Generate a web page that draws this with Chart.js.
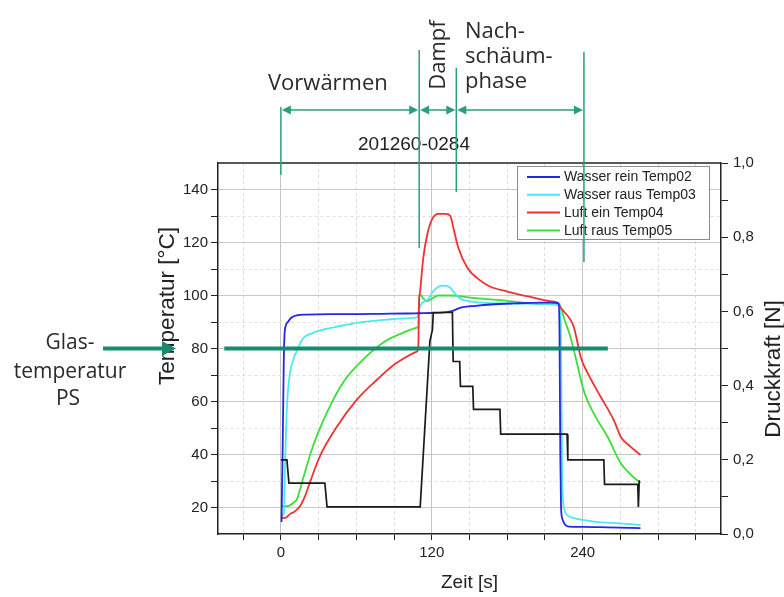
<!DOCTYPE html>
<html>
<head>
<meta charset="utf-8">
<script src="https://cdn.jsdelivr.net/npm/chart.js@4.4.1/dist/chart.umd.min.js"></script>
<style>
html,body{margin:0;padding:0;background:#fff;}
#c{display:block;}
</style>
</head>
<body>
<canvas id="c" width="784" height="597"></canvas>
<script>
// ---------- axis ticks ----------
const X_TICKS = [-30, 0, 30, 60, 90, 120, 150, 180, 210, 240, 270, 300, 330];
const X_LABELS = [0, 120, 240];
const Y_TICKS = [20, 30, 40, 50, 60, 70, 80, 90, 100, 110, 120, 130, 140];
const Y_LABELS = [20, 40, 60, 80, 100, 120, 140];
const Y1_TICKS = [0, 0.1, 0.2, 0.3, 0.4, 0.5, 0.6, 0.7, 0.8, 0.9, 1.0];
const Y1_LABELS = ['0,0', '', '0,2', '', '0,4', '', '0,6', '', '0,8', '', '1,0'];

// ---------- series ----------
const SERIES_NAMES = ['Wasser rein Temp02', 'Wasser raus Temp03', 'Luft ein Temp04', 'Luft raus Temp05'];
const FORCE_NAME = 'Druckkraft';

const T02_TIME = [0.5, 1.5, 2.3, 3.2, 5.6, 8, 12.7, 20, 40, 60, 80, 100, 110, 120, 127, 135, 143, 155, 167, 185, 207, 215, 221, 221.6, 222.2, 222.8, 224, 226, 229, 240, 260, 286];
const T02_VAL  = [14.5, 45, 75, 87, 90, 91.5, 92.5, 92.8, 93, 93, 93.1, 93.2, 93.3, 93.4, 93.5, 94, 95.4, 96.1, 96.6, 97, 97.3, 97.3, 97.1, 85, 40, 20, 15.5, 13.5, 12.8, 12.7, 12.5, 12.2];

const T03_TIME = [0.5, 2.5, 3.2, 4.8, 7.2, 10, 12.8, 17.5, 25, 31.1, 45, 57.4, 70, 84.5, 100, 108.5, 110, 112, 117, 121, 125, 129, 134, 138, 142, 148, 160, 180, 200, 215, 222.3, 223, 223.6, 224.5, 225.5, 228, 233, 240, 250, 270, 286];
const T03_VAL  = [16.8, 18, 33, 57.8, 70.6, 76, 79.2, 83.8, 85.8, 86.8, 88.3, 89.4, 90.2, 90.9, 91.4, 91.7, 95, 97, 98.5, 101.5, 103.2, 103.7, 103.2, 101, 99, 98, 97.3, 97, 96.9, 96.8, 96.7, 70, 35, 22, 19, 17, 16, 15.3, 14.6, 14, 13.4];

const T04_TIME = [0, 4, 7.2, 11, 15.2, 19, 23.1, 31.1, 44.7, 60.6, 76.6, 92.5, 108.5, 109.3, 109.8, 110.8, 113.2, 116.4, 120.4, 125.2, 131, 134.8, 137.2, 141.1, 148.3, 158.7, 166.7, 180, 200, 215, 220, 222.5, 226, 230.5, 233, 236, 238.4, 244, 254.4, 264.7, 268, 270.3, 278, 286];
const T04_VAL  = [16, 16.2, 17.5, 18.5, 20.5, 24, 29.5, 39.4, 50.6, 60.8, 68.3, 74.7, 78.9, 80, 96, 101.8, 114, 123, 128.9, 130.8, 130.8, 130, 125.5, 118, 110.5, 105.6, 103.3, 101.5, 99.3, 97.8, 97.3, 95.4, 93.5, 90.7, 88, 82, 76.8, 70.7, 61.7, 53, 49.2, 46.6, 43, 39.8];

const T05_TIME = [0, 4, 7.2, 10, 12.8, 17.5, 25.5, 36.7, 49.5, 65.5, 81.5, 97.5, 108.5, 109.4, 110, 111, 113, 116, 120, 125, 135, 150, 180, 206, 221, 223, 225, 230.5, 234.4, 240.8, 248.8, 260, 270.3, 278, 286];
const T05_VAL  = [20.5, 20.5, 20.8, 21.8, 23.2, 30.7, 43.1, 55.9, 67.2, 75.9, 82.3, 86, 87.9, 88.5, 99.5, 100.3, 99, 97.8, 98.8, 100, 100, 99.2, 98, 96.8, 96.4, 95, 91.7, 84, 76.6, 64.2, 55.5, 46.5, 36.7, 32.5, 29.2];

const FORCE_TIME = [0, 4.8, 6.4, 35, 36.7, 110.8, 118.5, 120.5, 121.2, 136.4, 137, 142.2, 142.8, 152.6, 153.2, 174.2, 174.8, 227.6, 228.2, 256.8, 257.4, 283.8, 284.3, 285];
const FORCE_VAL  = [0.2, 0.2, 0.137, 0.137, 0.073, 0.073, 0.52, 0.55, 0.597, 0.597, 0.465, 0.465, 0.398, 0.398, 0.336, 0.336, 0.269, 0.269, 0.2, 0.2, 0.134, 0.134, 0.073, 0.145];

// ---------- annotations ----------
const GLAS_T = 80;            // glass temperature line (°C)
const GLAS_FROM = -45, GLAS_TO = 260;
const PHASE_BOUNDS = [0, 110, 139.5, 241];        // s
const PHASE_TOP_PX = [107, 50, 68, 52];
const PHASE_BOTTOM_T = [145.5, 117.9, 139, 112.6];
const PHASE_ARROW_Y = 110;

const COLORS = ['#2626e6', '#4ce8f2', '#ee3232', '#3cde3c'];
const FORCE_COLOR = '#1a1a1a';
const TEAL = '#2a9e80';
const TEAL_DARK = '#178a6f';
const SANS = '"Liberation Sans", Arial, sans-serif';
const HUM = '"Open Sans", "Noto Sans", sans-serif';

function pts(t, v) { return t.map((x, i) => ({ x: x, y: v[i] })); }

function arrowHead(ctx, x, y, dir, len, half) {
  ctx.beginPath();
  ctx.moveTo(x, y);
  ctx.lineTo(x - dir * len, y - half);
  ctx.lineTo(x - dir * len, y + half);
  ctx.closePath();
  ctx.fill();
}

const overlay = {
  id: 'overlay',
  afterDatasetsDraw(chart) {
    const ctx = chart.ctx, a = chart.chartArea;
    ctx.save();
    // top frame line
    ctx.strokeStyle = '#222'; ctx.lineWidth = 1.5;
    ctx.beginPath(); ctx.moveTo(a.left, a.top); ctx.lineTo(a.right, a.top); ctx.stroke();
    // legend
    const lx = a.right - 204, ly = a.top + 3, lw = 192, lh = 73;
    ctx.fillStyle = '#fff'; ctx.fillRect(lx, ly, lw, lh);
    ctx.strokeStyle = '#8c8c8c'; ctx.lineWidth = 1;
    ctx.strokeRect(lx + 0.5, ly + 0.5, lw, lh);
    ctx.font = '14px ' + SANS; ctx.textBaseline = 'middle'; ctx.textAlign = 'left';
    SERIES_NAMES.forEach((n, i) => {
      const yy = ly + 11 + i * 17.8;
      ctx.strokeStyle = COLORS[i]; ctx.lineWidth = 2;
      ctx.beginPath(); ctx.moveTo(lx + 10, yy); ctx.lineTo(lx + 43, yy); ctx.stroke();
      ctx.fillStyle = '#222'; ctx.fillText(n, lx + 47, yy + 0.5);
    });
    ctx.restore();
  },
  afterDraw(chart) {
    const ctx = chart.ctx, a = chart.chartArea, xs = chart.scales.x, ys = chart.scales.y;
    ctx.save();
    ctx.fillStyle = '#222';
    // axis titles
    ctx.textAlign = 'center'; ctx.textBaseline = 'middle';
    ctx.font = '19px ' + SANS;
    ctx.fillText('Zeit [s]', (a.left + a.right) / 2, 583);
    ctx.font = '22.5px ' + SANS;
    ctx.save(); ctx.translate(168, 306); ctx.rotate(-Math.PI / 2); ctx.fillText('Temperatur [°C]', 0, 0); ctx.restore();
    ctx.save(); ctx.translate(774, 369); ctx.rotate(-Math.PI / 2); ctx.fillText('Druckkraft [N]', 0, 0); ctx.restore();
    // sample id
    ctx.font = '19px ' + SANS;
    ctx.fillText('201260-0284', 414, 145);

    // glass temperature line
    const y80 = ys.getPixelForValue(GLAS_T);
    ctx.strokeStyle = TEAL_DARK; ctx.fillStyle = TEAL_DARK; ctx.lineWidth = 4;
    ctx.beginPath(); ctx.moveTo(xs.getPixelForValue(GLAS_FROM), y80); ctx.lineTo(xs.getPixelForValue(GLAS_TO), y80); ctx.stroke();
    // arrow left of axis
    ctx.beginPath(); ctx.moveTo(a.left - 115, y80); ctx.lineTo(a.left - 52, y80); ctx.stroke();
    arrowHead(ctx, a.left - 42, y80, 1, 14, 7.5);
    // Glas text
    ctx.fillStyle = '#2a2a2a'; ctx.font = '21px ' + HUM; ctx.textAlign = 'center'; ctx.textBaseline = 'alphabetic';
    ctx.fillText('Glas-', 70, y80);
    ctx.fillText('temperatur', 70, y80 + 29);
    ctx.fillText('PS', 68, y80 + 56);

    // phases
    ctx.strokeStyle = TEAL; ctx.fillStyle = TEAL; ctx.lineWidth = 1.5;
    const px = PHASE_BOUNDS.map(v => xs.getPixelForValue(v));
    px.forEach((x, i) => {
      ctx.beginPath(); ctx.moveTo(x, PHASE_TOP_PX[i]); ctx.lineTo(x, ys.getPixelForValue(PHASE_BOTTOM_T[i])); ctx.stroke();
    });
    for (let i = 0; i < px.length - 1; i++) {
      const x1 = px[i] + 1, x2 = px[i + 1] - 1;
      ctx.beginPath(); ctx.moveTo(x1 + 6, PHASE_ARROW_Y); ctx.lineTo(x2 - 6, PHASE_ARROW_Y); ctx.stroke();
      arrowHead(ctx, x1, PHASE_ARROW_Y, -1, 9, 4.5);
      arrowHead(ctx, x2, PHASE_ARROW_Y, 1, 9, 4.5);
    }
    ctx.fillStyle = '#2a2a2a'; ctx.font = '22px ' + HUM; ctx.textAlign = 'left'; ctx.textBaseline = 'alphabetic';
    ctx.fillText('Vorwärmen', 268, 90);
    ctx.fillText('Nach-', 465, 38);
    ctx.fillText('schäum-', 465, 63);
    ctx.fillText('phase', 465, 88);
    ctx.save(); ctx.translate(445, 55); ctx.rotate(-Math.PI / 2); ctx.textAlign = 'center';
    ctx.fillText('Dampf', 0, 0); ctx.restore();
    ctx.restore();
  }
};

const lineDs = (i, t, v) => ({
  label: SERIES_NAMES[i], data: pts(t, v), yAxisID: 'y',
  borderColor: COLORS[i], borderWidth: 1.8, pointRadius: 0,
  cubicInterpolationMode: 'monotone', fill: false
});

new Chart(document.getElementById('c'), {
  type: 'line',
  data: {
    datasets: [
      { label: FORCE_NAME, data: pts(FORCE_TIME, FORCE_VAL), yAxisID: 'y1', borderColor: FORCE_COLOR, borderWidth: 1.7, pointRadius: 0, tension: 0, fill: false },
      lineDs(0, T02_TIME, T02_VAL),
      lineDs(2, T04_TIME, T04_VAL),
      lineDs(1, T03_TIME, T03_VAL),
      lineDs(3, T05_TIME, T05_VAL)
    ]
  },
  options: {
    responsive: false, animation: false, devicePixelRatio: 1,
    layout: { padding: { top: 163, left: 0, right: 0, bottom: 0 } },
    plugins: { legend: { display: false }, tooltip: { enabled: false } },
    scales: {
      x: {
        type: 'linear', min: -50, max: 350,
        afterBuildTicks: s => { s.ticks = X_TICKS.map(v => ({ value: v })); },
        afterFit: s => { s.height = 63; },
        ticks: { autoSkip: false, maxRotation: 0, padding: 4, color: '#222', font: { family: SANS, size: 15 },
          callback: v => X_LABELS.includes(v) ? String(v) : '' },
        grid: { color: c => (c.tick && X_LABELS.includes(c.tick.value)) ? '#c4c4c4' : '#dcdcdc', tickColor: '#222', tickLength: 6, lineWidth: 1 },
        border: { color: '#222', width: 1.5, dash: c => (c.tick && !X_LABELS.includes(c.tick.value)) ? [3, 3] : [] }
      },
      y: {
        type: 'linear', position: 'left', min: 10, max: 150,
        afterBuildTicks: s => { s.ticks = Y_TICKS.map(v => ({ value: v })); },
        afterFit: s => { s.width = 218; },
        ticks: { autoSkip: false, padding: 3, color: '#222', font: { family: SANS, size: 15 },
          callback: v => Y_LABELS.includes(v) ? String(v) : '' },
        grid: { color: c => (c.tick && Y_LABELS.includes(c.tick.value)) ? '#c8c8c8' : '#dedede', tickColor: '#222', tickLength: 7, lineWidth: 1 },
        border: { color: '#222', width: 1.5, dash: c => (c.tick && !Y_LABELS.includes(c.tick.value)) ? [3, 3] : [] }
      },
      y1: {
        type: 'linear', position: 'right', min: 0, max: 1,
        afterBuildTicks: s => { s.ticks = Y1_TICKS.map(v => ({ value: v })); },
        afterFit: s => { s.width = 63; },
        ticks: { autoSkip: false, padding: 5, color: '#222', font: { family: SANS, size: 15 },
          callback: (v, i) => Y1_LABELS[i] },
        grid: { drawOnChartArea: false, tickColor: '#222', tickLength: 7 },
        border: { color: '#222', width: 1.5 }
      }
    }
  },
  plugins: [overlay]
});
</script>
</body>
</html>
